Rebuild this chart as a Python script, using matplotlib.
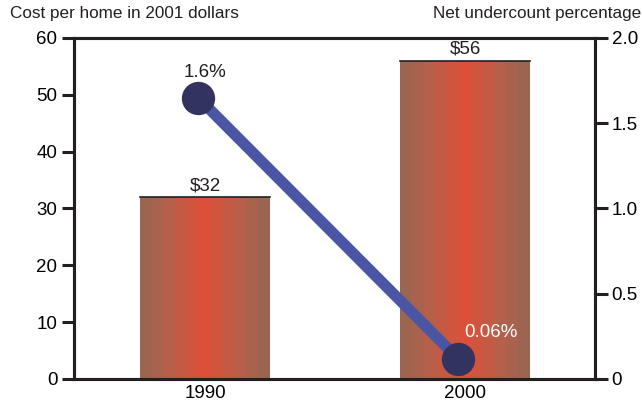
import numpy as np
import matplotlib.pyplot as plt
from matplotlib.colors import LinearSegmentedColormap

plt.rcParams['font.family'] = ['Liberation Sans', 'DejaVu Sans']

years = ['1990', '2000']
cost = [32, 56]
cost_labels = ['$32', '$56']
undercount = [1.65, 0.12]
undercount_labels = ['1.6%', '0.06%']

left_ticks = [0, 10, 20, 30, 40, 50, 60]
right_ticks = [0, 0.5, 1.0, 1.5, 2.0]
right_tick_labels = ['0', '0.5', '1.0', '1.5', '2.0']

spine_col = '#231f20'
fig = plt.figure(figsize=(6.42, 4.04), dpi=100)
ax = fig.add_axes([0.1153, 0.0619, 0.8115, 0.8441])

x = np.arange(len(years))
w = 0.5
bars = ax.bar(x, cost, width=w, color='#c05a44', edgecolor='none', zorder=2)

# banded brown -> red -> brown gradient for each bar
cmap = LinearSegmentedColormap.from_list('barfill', ['#9b6552', '#bd5e48', '#dd4f38', '#bd5e48', '#9b6552'])
bands = np.linspace(0, 1, 11).reshape(1, -1)
for i, b in enumerate(bars):
    xi, h = x[i], cost[i]
    im = ax.imshow(bands, cmap=cmap, aspect='auto', interpolation='nearest',
                   extent=[xi - w / 2, xi + w / 2, 0, h], zorder=2)
    im.set_clip_path(b)
    ax.plot([xi - w / 2, xi + w / 2], [h, h], color=spine_col, lw=1.2, zorder=3)
    ax.text(xi, h + 0.5, cost_labels[i], ha='center', va='bottom',
            fontsize=13.5, color=spine_col, zorder=4)

ax.set_xlim(-0.504, 1.5)
ax.set_ylim(0, 60)
ax.set_yticks(left_ticks)
ax.set_xticks(x)
ax.set_xticklabels(years)
ax.tick_params(axis='y', length=9, width=2.2, labelsize=13.5, color=spine_col, pad=3)
ax.tick_params(axis='x', length=0, labelsize=13.5, pad=4)
for s in ax.spines.values():
    s.set_linewidth(2.2)
    s.set_color(spine_col)

ax2 = ax.twinx()
ax2.set_ylim(0, 2.0)
ax2.set_yticks(right_ticks)
ax2.set_yticklabels(right_tick_labels)
ax2.tick_params(axis='y', length=9, width=2.2, labelsize=13.5, color=spine_col, pad=3)
for s in ax2.spines.values():
    s.set_linewidth(2.2)
    s.set_color(spine_col)

xl = x - 0.027
ax2.plot(xl, undercount, color='#4a56a3', lw=8, solid_capstyle='butt', zorder=5)
ax2.plot(xl, undercount, 'o', color='#33335f', markersize=24, markeredgewidth=0, zorder=6)
ax2.text(x[0], undercount[0] + 0.1, undercount_labels[0], ha='center', va='bottom',
         fontsize=13.5, color=spine_col)
ax2.text(x[1] + 0.1, undercount[1] + 0.1, undercount_labels[1], ha='center', va='bottom',
         fontsize=13.5, color='white')

fig.text(0.016, 0.948, 'Cost per home in 2001 dollars', fontsize=12.3, color=spine_col,
         ha='left', va='bottom')
fig.text(0.999, 0.948, 'Net undercount percentage', fontsize=12.3, color=spine_col,
         ha='right', va='bottom')

fig.savefig('out.png', dpi=100)
